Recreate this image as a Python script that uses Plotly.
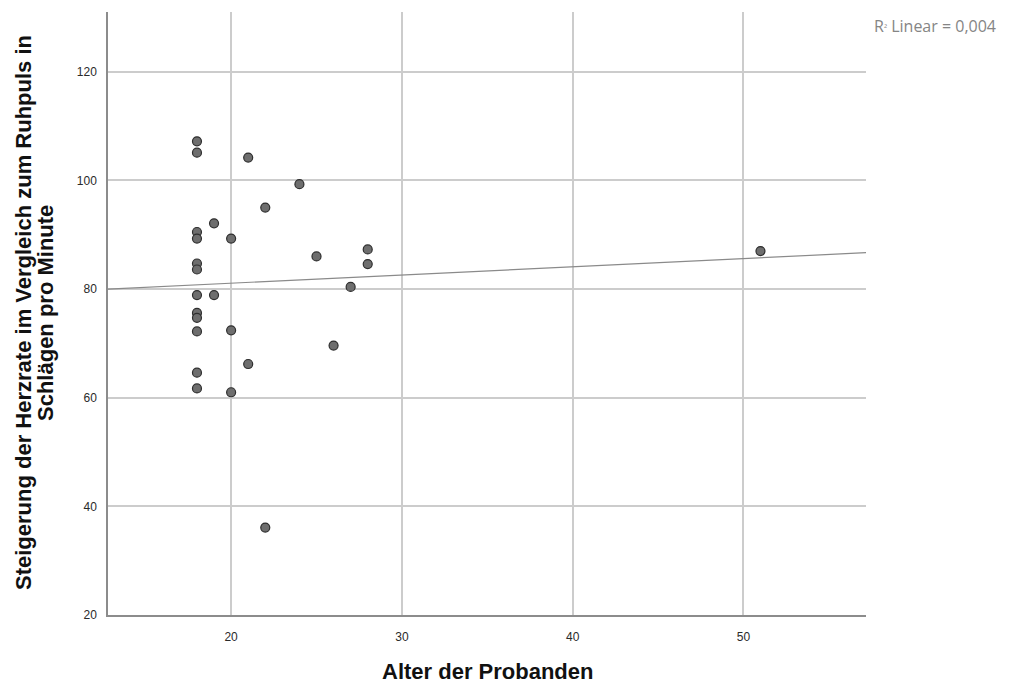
import numpy as np
import plotly.graph_objects as go

# Data
alter = [18, 18, 18, 18, 18, 18, 18, 18, 18, 18, 18, 18,
         19, 19,
         20, 20, 20,
         21, 21,
         22, 22,
         24, 25, 26, 27,
         28, 28,
         51]
steigerung = [107.2, 105.1, 90.5, 89.3, 84.7, 83.6, 78.9, 75.6, 74.7, 72.2, 64.6, 61.7,
              92.1, 78.9,
              89.3, 72.4, 61.0,
              104.2, 66.2,
              95.0, 36.1,
              99.3, 86.0, 69.6, 80.4,
              87.3, 84.6,
              87.0]

x_ticks = [20, 30, 40, 50]
y_ticks = [20, 40, 60, 80, 100, 120]
x_range = [12.79, 57.18]
y_range = [20, 131]
r2_label = "R<span style=\"font-size:9px\">²</span> Linear = 0,004"
x_title = "Alter der Probanden"
y_title_1 = "Steigerung der Herzrate im Vergleich zum Ruhpuls in"
y_title_2 = "Schlägen pro Minute"

# least-squares fit line
slope, intercept = np.polyfit(alter, steigerung, 1)
fit_x = np.array(x_range)
fit_y = slope * fit_x + intercept

fig = go.Figure()
fig.add_trace(go.Scatter(
    x=fit_x, y=fit_y, mode="lines",
    line=dict(color="#8a8a8a", width=1.2),
    hoverinfo="skip", showlegend=False,
))
fig.add_trace(go.Scatter(
    x=alter, y=steigerung, mode="markers",
    marker=dict(size=9, color="#6e6e6e", line=dict(color="#2e2e2e", width=1.2)),
    showlegend=False,
))

# page body adds an 8px offset; compensate so the plot lands where the reference has it
OFF = 8
W, H = 1012 - OFF, 683 - OFF
L, T = 108 - OFF, 12 - OFF
pw, ph = 758, 603
R = W - L - pw
B = H - T - ph

def px_x(px):
    return (px - OFF - L) / pw

def px_y(py):
    return (H - B - (py - OFF)) / ph

axis_common = dict(
    showgrid=True, gridcolor="#cccccc", gridwidth=1.5,
    zeroline=False, showline=True, linecolor="#8c8c8c", linewidth=1.5,
    ticks="", tickfont=dict(family="Liberation Sans, Arial", size=12, color="#2a2a2a"),
)

fig.update_xaxes(range=x_range, tickvals=x_ticks, ticklabelstandoff=10, **axis_common)
fig.update_yaxes(range=y_range, tickvals=y_ticks, ticklabelstandoff=7, **axis_common)

title_font = dict(family="Liberation Sans, Arial", size=22, color="#111111")
annotations = [
    dict(text="<b>" + x_title + "</b>", xref="paper", yref="paper",
         x=px_x(487), y=px_y(672), xanchor="center", yanchor="middle",
         showarrow=False, font=title_font),
    dict(text="<b>" + y_title_1 + "</b>", xref="paper", yref="paper",
         x=px_x(24), y=px_y(313), xanchor="center", yanchor="middle",
         textangle=-90, showarrow=False, font=title_font),
    dict(text="<b>" + y_title_2 + "</b>", xref="paper", yref="paper",
         x=px_x(46), y=px_y(313), xanchor="center", yanchor="middle",
         textangle=-90, showarrow=False, font=title_font),
    dict(text=r2_label, xref="paper", yref="paper",
         x=px_x(872), y=px_y(26), xanchor="left", yanchor="middle",
         showarrow=False,
         font=dict(family="Open Sans, Liberation Sans", size=16, color="#858585")),
]

fig.update_layout(
    width=W, height=H,
    margin=dict(l=L, r=R, t=T, b=B),
    plot_bgcolor="white", paper_bgcolor="white",
    annotations=annotations,
    showlegend=False,
)

fig.write_html("out.html")
